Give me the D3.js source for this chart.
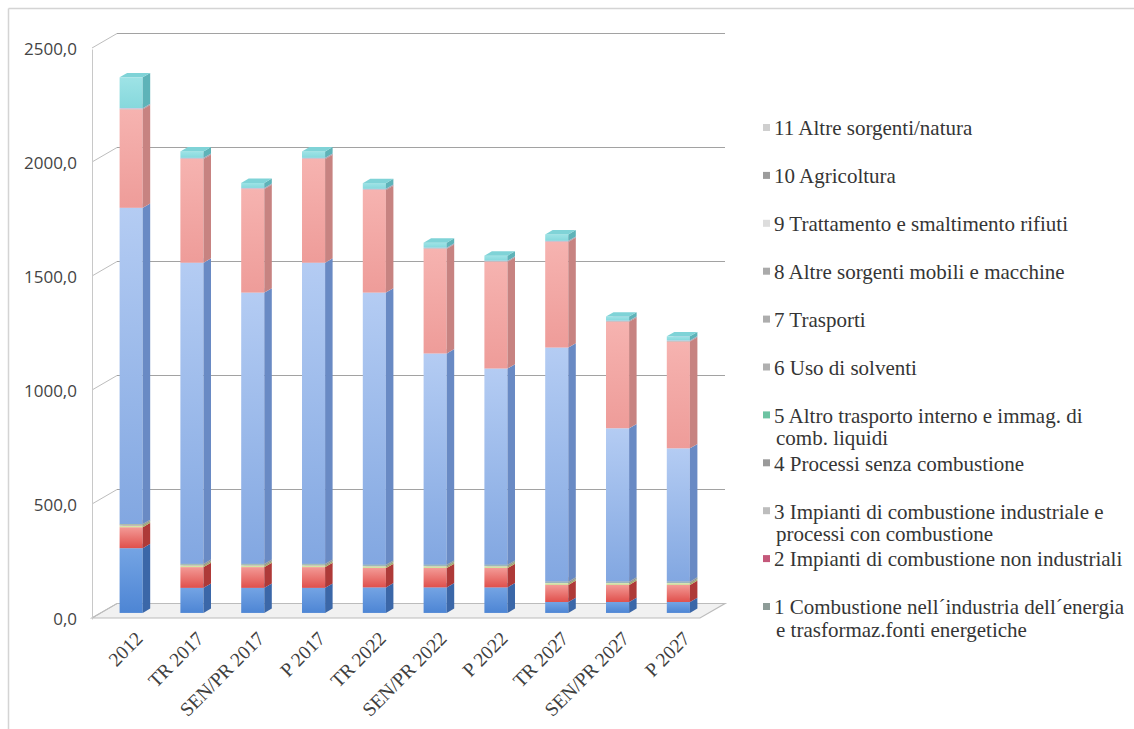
<!DOCTYPE html>
<html>
<head>
<meta charset="utf-8">
<script src="https://cdn.jsdelivr.net/npm/d3@7"></script>
<style>
  html, body { margin: 0; padding: 0; background: #ffffff; }
  svg { display: block; }
</style>
</head>
<body>
<svg id="chart" width="1134" height="729"></svg>
<script>
// ---------------- DATA ----------------
const categories = ["2012", "TR 2017", "SEN/PR 2017", "P 2017", "TR 2022", "SEN/PR 2022", "P 2022", "TR 2027", "SEN/PR 2027", "P 2027"];

const seriesNames = [
  "1 Combustione nell\u00b4industria dell\u00b4energia\ne trasformaz.fonti energetiche",
  "2 Impianti di combustione non industriali",
  "3 Impianti di combustione industriale e\nprocessi con combustione",
  "4 Processi senza combustione",
  "5 Altro trasporto interno e immag. di\ncomb. liquidi",
  "6 Uso di solventi",
  "7 Trasporti",
  "8 Altre sorgenti mobili e macchine",
  "9 Trattamento e smaltimento rifiuti",
  "10 Agricoltura",
  "11 Altre sorgenti/natura"
];

const s1  = [284, 110, 110, 110, 112, 112, 112, 48, 48, 48];
const s2  = [92, 91, 91, 91, 85, 85, 85, 75, 75, 75];
const s3  = [8, 8, 8, 8, 8, 8, 8, 8, 8, 8];
const s4  = [3, 3, 3, 3, 3, 3, 3, 3, 3, 3];
const s5  = [2, 2, 2, 2, 2, 2, 2, 2, 2, 2];
const s6  = [1, 1, 1, 1, 1, 1, 1, 1, 1, 1];
const s7  = [1387, 1321, 1190, 1321, 1194, 927, 861, 1027, 673, 585];
const s8  = [432, 455, 454, 455, 450, 459, 468, 463, 467, 468];
const s9  = [3, 3, 3, 3, 3, 3, 3, 3, 3, 3];
const s10 = [2, 2, 2, 2, 2, 2, 2, 2, 2, 2];
const s11 = [135, 28, 22, 28, 25, 22, 22, 28, 18, 18];
const seriesValues = [s1, s2, s3, s4, s5, s6, s7, s8, s9, s10, s11];

const yTicks = [0, 500, 1000, 1500, 2000, 2500];

// bar face colours [front light, front dark, side, top]
const barColors = [
  ["#74a4e4", "#4d85d4", "#3b67a8", "#8db6ec"],
  ["#f39a96", "#e0504c", "#ae3a38", "#f4b0ad"],
  ["#e2efbc", "#c9de98", "#9fb070", "#eaf4cc"],
  ["#a895cc", "#8f7bb8", "#6c5c92", "#bcaeda"],
  ["#7fd0b8", "#5fbca2", "#43927c", "#9adcc8"],
  ["#f6b878", "#ee9c50", "#c07a36", "#f8cc9c"],
  ["#b4ccf3", "#82a7e1", "#698ac4", "#c9daf6"],
  ["#f6b3b0", "#ee9c99", "#c78381", "#f8c4c2"],
  ["#c8c8c8", "#b0b0b0", "#8c8c8c", "#d8d8d8"],
  ["#d8c4e4", "#c4aad6", "#9c84b0", "#e4d6ee"],
  ["#9ee3e6", "#86d8dc", "#5eb3b8", "#7fd3d7"]
];
// legend marker colours as they appear in the reference legend
const legendColors = ["#8e9c98", "#c4587a", "#bdbdbd", "#9a9a9a", "#6cc3a2", "#b0b0b0", "#adadad", "#aaaaaa", "#dddddd", "#9c9c9c", "#cfcfcf"];

// ---------------- LAYOUT ----------------
const svg = d3.select("#chart");
const W = 1134, H = 729;
const frontLeft = 92, frontRight = 700, frontBottom = 618, frontTop = 48;
const DX = 25, DY = -14.5;          // total depth of the 3D box
const d0 = 0.35, d1 = 0.65;          // bar depth range (fraction)

const x = d3.scaleBand().domain(categories).range([frontLeft, frontRight])
  .paddingInner(0.62).paddingOuter(0.31);
const y = d3.scaleLinear().domain([0, 2500]).range([frontBottom, frontTop]);

// chart border (top & left only visible)
svg.append("line").attr("x1", 8.5).attr("x2", W).attr("y1", 8.5).attr("y2", 8.5)
  .attr("stroke", "#d4d4d4").attr("stroke-width", 1.5);
svg.append("line").attr("x1", 8.5).attr("x2", 8.5).attr("y1", 8.5).attr("y2", H)
  .attr("stroke", "#d4d4d4").attr("stroke-width", 1.5);

const plot = svg.append("g");

// floor
const floorPts = [[frontLeft, frontBottom], [frontRight, frontBottom],
  [frontRight + DX, frontBottom + DY], [frontLeft + DX, frontBottom + DY]];
plot.append("polygon").attr("points", floorPts.map(p => p.join(",")).join(" "))
  .attr("fill", "#f1f1f1").attr("stroke", "#bcbcbc").attr("stroke-width", 1.2);

// back wall gridlines
plot.selectAll("line.grid").data(yTicks.filter(t => t > 0)).join("line")
  .attr("class", "grid")
  .attr("x1", frontLeft + DX).attr("x2", frontRight + DX)
  .attr("y1", d => y(d) + DY).attr("y2", d => y(d) + DY)
  .attr("stroke", "#a2a2a2").attr("stroke-width", 1);

// side-wall diagonal tick lines
plot.selectAll("line.side").data(yTicks).join("line")
  .attr("class", "side")
  .attr("x1", frontLeft).attr("x2", frontLeft + DX)
  .attr("y1", d => y(d)).attr("y2", d => y(d) + DY)
  .attr("stroke", "#bdbdbd").attr("stroke-width", 1);

// y axis
const yAxis = d3.axisLeft(y).tickValues(yTicks)
  .tickFormat(d => d3.format(".1f")(d).replace(".", ","))
  .tickSize(0).tickPadding(15);
const yg = svg.append("g").attr("transform", `translate(${frontLeft},1)`).call(yAxis);
yg.select(".domain").attr("stroke", "#c8c8c8");
yg.selectAll("text").attr("font-family", "'Open Sans', sans-serif").attr("font-size", 17)
  .attr("fill", "#444");

// defs for gradients
const defs = svg.append("defs");
barColors.forEach((c, i) => {
  const g = defs.append("linearGradient").attr("id", "gf" + i)
    .attr("x1", 0).attr("y1", 0).attr("x2", 0).attr("y2", 1);
  g.append("stop").attr("offset", "0%").attr("stop-color", c[0]);
  g.append("stop").attr("offset", "100%").attr("stop-color", c[1]);
});

// stacked data
const rows = categories.map((c, i) => {
  const r = { cat: c };
  seriesValues.forEach((s, k) => r["k" + k] = s[i]);
  return r;
});
const keys = seriesValues.map((s, k) => "k" + k);
const stacked = d3.stack().keys(keys)(rows);

const bw = x.bandwidth();
const fx = d0 * DX, fy = d0 * DY;
const bdx = (d1 - d0) * DX, bdy = (d1 - d0) * DY;
const pts = a => a.map(p => p.join(",")).join(" ");

const bars = plot.append("g");
stacked.forEach((layer, k) => {
  const lg = bars.append("g");
  layer.forEach(seg => {
    const cat = seg.data.cat;
    const xL = x(cat) + fx, xR = xL + bw;
    const yT = y(seg[1]) + fy, yB = y(seg[0]) + fy;
    if (seg[1] - seg[0] <= 0) return;
    lg.append("rect").attr("x", xL).attr("y", yT).attr("width", bw).attr("height", Math.max(0, yB - yT))
      .attr("fill", `url(#gf${k})`);
    lg.append("polygon").attr("points", pts([[xR, yT], [xR + bdx, yT + bdy], [xR + bdx, yB + bdy], [xR, yB]]))
      .attr("fill", barColors[k][2]);
    lg.append("polygon").attr("points", pts([[xL, yT], [xL + bdx, yT + bdy], [xR + bdx, yT + bdy], [xR, yT]]))
      .attr("fill", barColors[k][3]);
  });
});

// x axis labels
const xAxis = d3.axisBottom(x).tickSize(0).tickSizeOuter(0);
const xg = svg.append("g").attr("transform", `translate(${fx + 8},${frontBottom + 17})`).call(xAxis);
xg.select(".domain").remove();
xg.selectAll("text")
  .attr("y", 0).attr("x", 0).attr("dy", "0.35em")
  .attr("transform", "rotate(-45)")
  .style("text-anchor", "end")
  .attr("font-family", "'Liberation Serif', 'Times New Roman', serif")
  .attr("font-size", 19.5).attr("fill", "#404040");

// legend (reverse order, top = 11)
const legendOrder = d3.range(seriesNames.length).reverse();
const ly = d3.scalePoint().domain(legendOrder).range([128, 607]);
const leg = svg.append("g");
legendOrder.forEach(k => {
  const g = leg.append("g").attr("transform", `translate(763,${ly(k)})`);
  g.append("rect").attr("x", 0).attr("y", -4).attr("width", 7).attr("height", 7)
    .attr("fill", legendColors[k]);
  const t = g.append("text").attr("x", 11).attr("y", 0)
    .attr("font-family", "'Liberation Serif', 'Times New Roman', serif")
    .attr("font-size", 21).attr("fill", "#353535");
  seriesNames[k].split("\n").forEach((line, j) => {
    t.append("tspan").attr("x", j === 0 ? 11 : 13).attr("dy", j === 0 ? "0.35em" : "1.08em").text(line);
  });
});
</script>
</body>
</html>
